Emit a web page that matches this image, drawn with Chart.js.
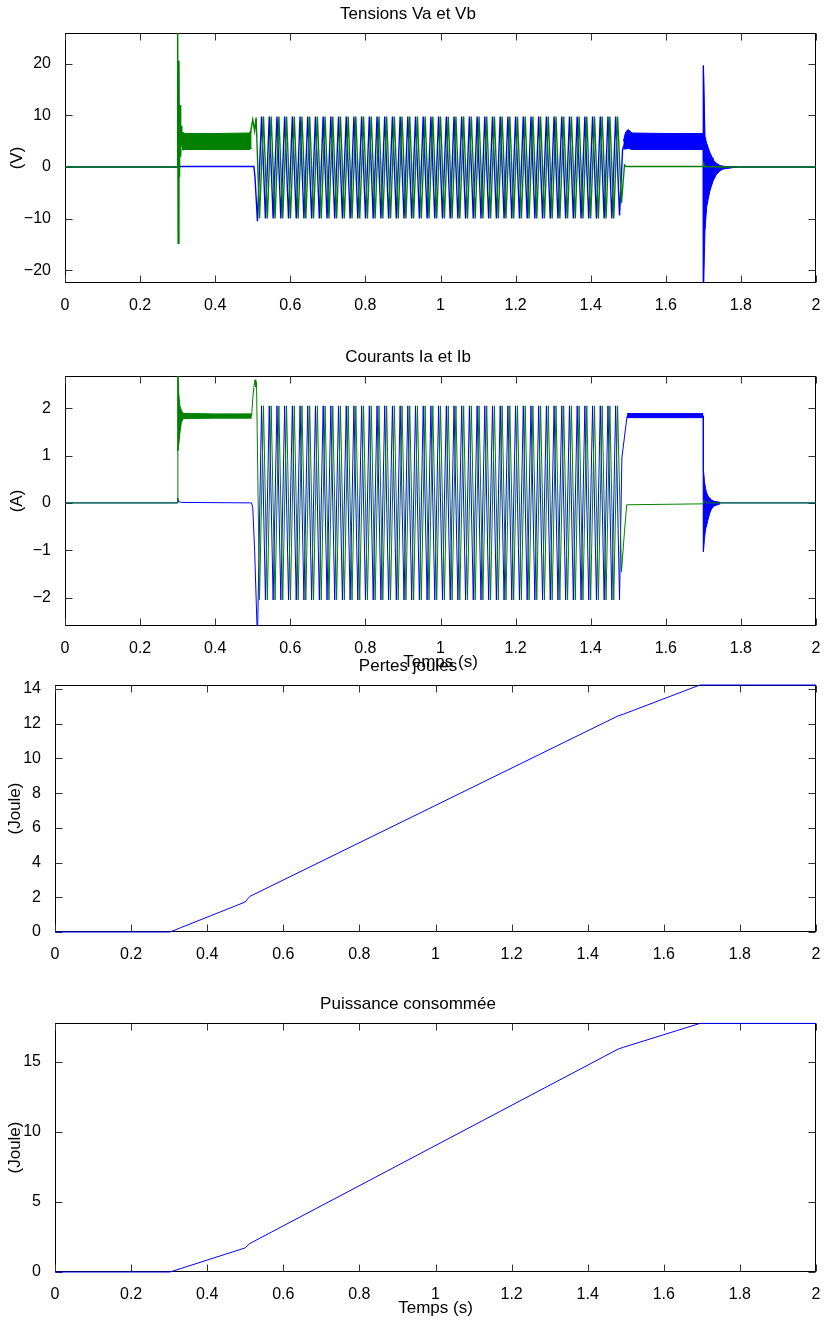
<!DOCTYPE html>
<html>
<head>
<meta charset="utf-8">
<script src="https://cdn.jsdelivr.net/npm/chart.js@4.4.0/dist/chart.umd.min.js"></script>
<style>
  html, body { margin: 0; padding: 0; background: #fff; overflow: hidden; }
  body { width: 830px; height: 1321px; position: relative; }
  canvas { position: absolute; left: 0; }
</style>
</head>
<body>
<canvas id="c1" width="830" height="330" style="top:-7px"></canvas>
<canvas id="c2" width="830" height="340" style="top:336px"></canvas>
<canvas id="c3" width="830" height="327" style="top:645px"></canvas>
<canvas id="c4" width="830" height="339" style="top:983px"></canvas>
<script>
// Instants des extrema pendant la phase sinusoidale
const tOscA = [
  0.5235, 0.5338, 0.5440, 0.5543, 0.5645, 0.5748, 0.5850, 0.5953, 0.6055, 0.6158,
  0.6260, 0.6363, 0.6465, 0.6568, 0.6670, 0.6773, 0.6875, 0.6978, 0.7080, 0.7183,
  0.7285, 0.7388, 0.7490, 0.7593, 0.7695, 0.7798, 0.7900, 0.8003, 0.8105, 0.8208,
  0.8310, 0.8413, 0.8515, 0.8618, 0.8720, 0.8823, 0.8925, 0.9028, 0.9130, 0.9233,
  0.9335, 0.9438, 0.9540, 0.9643, 0.9745, 0.9848, 0.9950, 1.0053, 1.0155, 1.0258,
  1.0360, 1.0463, 1.0565, 1.0668, 1.0770, 1.0873, 1.0975, 1.1078, 1.1180, 1.1283,
  1.1385, 1.1488, 1.1590, 1.1693, 1.1795, 1.1898, 1.2000, 1.2103, 1.2205, 1.2308,
  1.2410, 1.2513, 1.2615, 1.2718, 1.2820, 1.2923, 1.3025, 1.3128, 1.3230, 1.3333,
  1.3435, 1.3538, 1.3640, 1.3743, 1.3845, 1.3948, 1.4050, 1.4153, 1.4255, 1.4358,
  1.4460, 1.4563, 1.4665, 1.4768
];
const tOscB = [
  0.5286, 0.5389, 0.5491, 0.5594, 0.5696, 0.5799, 0.5901, 0.6004, 0.6106, 0.6209,
  0.6311, 0.6414, 0.6516, 0.6619, 0.6721, 0.6824, 0.6926, 0.7029, 0.7131, 0.7234,
  0.7336, 0.7439, 0.7541, 0.7644, 0.7746, 0.7849, 0.7951, 0.8054, 0.8156, 0.8259,
  0.8361, 0.8464, 0.8566, 0.8669, 0.8771, 0.8874, 0.8976, 0.9079, 0.9181, 0.9284,
  0.9386, 0.9489, 0.9591, 0.9694, 0.9796, 0.9899, 1.0001, 1.0104, 1.0206, 1.0309,
  1.0411, 1.0514, 1.0616, 1.0719, 1.0821, 1.0924, 1.1026, 1.1129, 1.1231, 1.1334,
  1.1436, 1.1539, 1.1641, 1.1744, 1.1846, 1.1949, 1.2051, 1.2154, 1.2256, 1.2359,
  1.2461, 1.2564, 1.2666, 1.2769, 1.2871, 1.2974, 1.3076, 1.3179, 1.3281, 1.3384,
  1.3486, 1.3589, 1.3691, 1.3794, 1.3896, 1.3999, 1.4101, 1.4204, 1.4306, 1.4409,
  1.4511, 1.4614, 1.4716, 1.4819
];

// Tension Va (bleu)
const tVaDebut = [0, 0.2998, 0.3010, 0.5030, 0.5060, 0.5125];
const vaDebut  = [0, 0, 0.1, 0.1, -2, -10.5];
const vaOsc = [
  9.8, -10, 9.8, -10, 9.8, -10, 9.8, -10, 9.8, -10,
  9.8, -10, 9.8, -10, 9.8, -10, 9.8, -10, 9.8, -10,
  9.8, -10, 9.8, -10, 9.8, -10, 9.8, -10, 9.8, -10,
  9.8, -10, 9.8, -10, 9.8, -10, 9.8, -10, 9.8, -10,
  9.8, -10, 9.8, -10, 9.8, -10, 9.8, -10, 9.8, -10,
  9.8, -10, 9.8, -10, 9.8, -10, 9.8, -10, 9.8, -10,
  9.8, -10, 9.8, -10, 9.8, -10, 9.8, -10, 9.8, -10,
  9.8, -10, 9.8, -10, 9.8, -10, 9.8, -10, 9.8, -10,
  9.8, -10, 9.8, -10, 9.8, -10, 9.8, -10, 9.8, -10,
  9.8, -10, 9.8, -9.4
];
const tVaFin = [1.4850, 1.4935, 1.6995, 1.6997, 1.7002, 1.7044, 1.7090, 1.7177, 1.7266, 1.7355, 1.7530, 2.0];
const vaFin  = [3.5, 5, 5, -25, 19.7, -12, 4.5, -4.5, 1.3, -1.3, 0, 0];
const tBandeVa = [1.4870, 1.4930, 1.5000, 1.5100, 1.6000, 1.6995];
const vaHaut   = [5.0, 6.8, 7.3, 6.6, 6.5, 6.5];
const vaBas    = [3.5, 3.5, 3.6, 3.4, 3.4, 3.4];
const tAmortVa = [1.7002, 1.7044, 1.7090, 1.7177, 1.7266, 1.7355, 1.7440, 1.7530, 1.7710, 1.7900];
const vaAmHaut = [19.7, 6, 4.5, 2.8, 1.3, 0.7, 0.3, 0.15, 0.05, 0];
const vaAmBas  = [-25, -12, -7.7, -4.5, -2.6, -1.3, -0.7, -0.4, -0.2, 0];

// Tension Vb (vert)
const tVbDebut = [0, 0.2998, 0.3000, 0.3012, 0.3035, 0.3050, 0.3065, 0.3080, 0.3095, 0.3110, 0.3200, 0.4900, 0.5000, 0.5050, 0.5090, 0.5180];
const vbDebut  = [0, 0, 30, -14.8, 20.6, -2, 12, 2, 8, 4.2, 5, 5, 9.2, 7, 9.6, -10];
const vbOsc = [
  9.8, -10, 9.8, -10, 9.8, -10, 9.8, -10, 9.8, -10,
  9.8, -10, 9.8, -10, 9.8, -10, 9.8, -10, 9.8, -10,
  9.8, -10, 9.8, -10, 9.8, -10, 9.8, -10, 9.8, -10,
  9.8, -10, 9.8, -10, 9.8, -10, 9.8, -10, 9.8, -10,
  9.8, -10, 9.8, -10, 9.8, -10, 9.8, -10, 9.8, -10,
  9.8, -10, 9.8, -10, 9.8, -10, 9.8, -10, 9.8, -10,
  9.8, -10, 9.8, -10, 9.8, -10, 9.8, -10, 9.8, -10,
  9.8, -10, 9.8, -10, 9.8, -10, 9.8, -10, 9.8, -10,
  9.8, -10, 9.8, -10, 9.8, -10, 9.8, -10, 9.8, -10,
  9.8, -10, 9.8, -7
];
const tVbFin = [1.4900, 1.4950, 1.7000, 1.7010, 1.7050, 1.7500, 2.0];
const vbFin  = [0.4, 0.1, 0.1, 0.7, 0.1, 0, 0];
const tBandeVb = [0.3110, 0.3200, 0.4000, 0.4900, 0.4970];
const vbHaut   = [6.8, 6.5, 6.5, 6.6, 7.0];
const vbBas    = [3.3, 3.4, 3.4, 3.4, 3.6];

// Courant Ia (bleu)
const tIaDebut = [0, 0.2998, 0.3005, 0.3020, 0.3100, 0.4970, 0.5000, 0.5050, 0.5125];
const iaDebut  = [0, 0, 0.1, 0.03, 0.01, 0, -0.1, -1, -2.9];
const iaOsc = [
  2.05, -2.05, 2.05, -2.05, 2.05, -2.05, 2.05, -2.05, 2.05, -2.05,
  2.05, -2.05, 2.05, -2.05, 2.05, -2.05, 2.05, -2.05, 2.05, -2.05,
  2.05, -2.05, 2.05, -2.05, 2.05, -2.05, 2.05, -2.05, 2.05, -2.05,
  2.05, -2.05, 2.05, -2.05, 2.05, -2.05, 2.05, -2.05, 2.05, -2.05,
  2.05, -2.05, 2.05, -2.05, 2.05, -2.05, 2.05, -2.05, 2.05, -2.05,
  2.05, -2.05, 2.05, -2.05, 2.05, -2.05, 2.05, -2.05, 2.05, -2.05,
  2.05, -2.05, 2.05, -2.05, 2.05, -2.05, 2.05, -2.05, 2.05, -2.05,
  2.05, -2.05, 2.05, -2.05, 2.05, -2.05, 2.05, -2.05, 2.05, -2.05,
  2.05, -2.05, 2.05, -2.05, 2.05, -2.05, 2.05, -2.05, 2.05, -2.05,
  2.05, -2.05, 2.05, -2.05
];
const tIaFin = [1.4830, 1.4970, 1.6995, 1.6998, 1.7003, 1.7060, 1.7090, 1.7130, 1.7170, 1.7220, 1.7300, 1.7450, 2.0];
const iaFin  = [0.95, 1.84, 1.84, -1.03, 0.69, -0.55, 0.2, -0.33, 0.1, -0.12, 0.03, 0, 0];
const tBandeIa = [1.4970, 1.6995];
const iaHaut   = [1.886, 1.886];
const iaBas    = [1.80, 1.80];
const tAmortIa = [1.7003, 1.7030, 1.7060, 1.7090, 1.7130, 1.7170, 1.7220, 1.7300, 1.7450];
const iaAmHaut = [0.69, 0.45, 0.3, 0.2, 0.14, 0.1, 0.06, 0.03, 0.01];
const iaAmBas  = [-1.03, -0.75, -0.55, -0.47, -0.33, -0.22, -0.12, -0.06, -0.02];

// Courant Ib (vert)
const tIbDebut = [0, 0.2998, 0.3003, 0.3008, 0.3100, 0.4970, 0.5000, 0.5030, 0.5060, 0.5080, 0.5100, 0.5180];
const ibDebut  = [0, 0, 2.9, 1.1, 1.83, 1.83, 2.2, 2.45, 2.6, 2.45, 2.55, -2.05];
const ibOsc = [
  2.05, -2.05, 2.05, -2.05, 2.05, -2.05, 2.05, -2.05, 2.05, -2.05,
  2.05, -2.05, 2.05, -2.05, 2.05, -2.05, 2.05, -2.05, 2.05, -2.05,
  2.05, -2.05, 2.05, -2.05, 2.05, -2.05, 2.05, -2.05, 2.05, -2.05,
  2.05, -2.05, 2.05, -2.05, 2.05, -2.05, 2.05, -2.05, 2.05, -2.05,
  2.05, -2.05, 2.05, -2.05, 2.05, -2.05, 2.05, -2.05, 2.05, -2.05,
  2.05, -2.05, 2.05, -2.05, 2.05, -2.05, 2.05, -2.05, 2.05, -2.05,
  2.05, -2.05, 2.05, -2.05, 2.05, -2.05, 2.05, -2.05, 2.05, -2.05,
  2.05, -2.05, 2.05, -2.05, 2.05, -2.05, 2.05, -2.05, 2.05, -2.05,
  2.05, -2.05, 2.05, -2.05, 2.05, -2.05, 2.05, -2.05, 2.05, -2.05,
  2.05, -2.05, 2.05, -1.46
];
const tIbFin = [1.4900, 1.4960, 1.7000, 1.7010, 1.7100, 2.0];
const ibFin  = [-0.6, -0.04, -0.02, 0.05, 0, 0];
const tBandeIb = [0.3005, 0.3030, 0.3060, 0.3100, 0.3150, 0.4000, 0.4970];
const ibHaut   = [2.75, 2.3, 2.05, 1.95, 1.89, 1.88, 1.88];
const ibBas    = [1.1, 1.25, 1.5, 1.7, 1.78, 1.79, 1.79];

// Energies cumulees
const tEnergie  = [0, 0.302, 0.499, 0.512, 1.480, 1.494, 1.695, 2.0];
const pertes    = [0, 0, 1.72, 2.05, 12.45, 12.55, 14.23, 14.23];
const puissance = [0, 0, 1.71, 2.03, 15.89, 16.02, 17.72, 17.72];

const bleu = '#0000ff';
const vert = '#008000';
const police = "'Liberation Sans', Arial, Helvetica, sans-serif";

function pts(t, v) {
    return t.map((x, i) => ({ x: x, y: v[i] }));
}

function ligne(data, couleur, epaisseur) {
    return { data: data, borderColor: couleur, backgroundColor: couleur, borderWidth: epaisseur || 1, pointRadius: 0, tension: 0, fill: false };
}

// bande pleine entre deux courbes (ondulation haute frequence)
function bande(t, haut, bas, couleur) {
    return [
        { data: pts(t, haut), borderColor: couleur, backgroundColor: couleur, borderWidth: 1, pointRadius: 0, tension: 0, fill: '+1' },
        { data: pts(t, bas), borderColor: couleur, backgroundColor: couleur, borderWidth: 1, pointRadius: 0, tension: 0, fill: false }
    ];
}

// Cadre et graduations internes facon MATLAB
const cadreMatlab = {
    id: 'cadreMatlab',
    beforeDatasetsDraw(chart) {
        const { ctx, chartArea: a, scales: { x, y } } = chart;
        const l = Math.round(a.left) + 0.5, r = Math.round(a.right) - 0.5;
        const t = Math.round(a.top) + 0.5, b = Math.round(a.bottom) - 0.5;
        ctx.save();
        ctx.strokeStyle = '#000';
        ctx.lineWidth = 1;
        ctx.strokeRect(l, t, r - l, b - t);
        ctx.beginPath();
        x.ticks.forEach(tk => {
            const px = Math.round(x.getPixelForValue(tk.value)) + 0.5;
            ctx.moveTo(px, b); ctx.lineTo(px, b - 7);
            ctx.moveTo(px, t); ctx.lineTo(px, t + 7);
        });
        y.ticks.forEach(tk => {
            const py = Math.round(y.getPixelForValue(tk.value)) + 0.5;
            ctx.moveTo(l, py); ctx.lineTo(l + 7, py);
            ctx.moveTo(r, py); ctx.lineTo(r - 7, py);
        });
        ctx.strokeStyle = '#333';
        ctx.stroke();
        ctx.restore();
    }
};

function graphe(id, o) {
    return new Chart(document.getElementById(id), {
        type: 'line',
        data: { datasets: o.datasets },
        options: {
            responsive: false,
            animation: false,
            events: [],
            layout: { padding: { left: 0, right: 14, top: 0, bottom: 0 } },
            plugins: {
                legend: { display: false },
                tooltip: { enabled: false },
                title: {
                    display: true,
                    text: o.titre,
                    color: '#000',
                    font: { family: police, size: 17, weight: 'normal' },
                    padding: { top: 10.8, bottom: 8.8 }
                }
            },
            scales: {
                x: {
                    type: 'linear',
                    min: 0,
                    max: 2,
                    afterFit: s => { s.height = o.hautX; },
                    grid: { display: false },
                    border: { display: false },
                    ticks: {
                        stepSize: 0.2,
                        padding: 5,
                        color: '#000',
                        font: { family: police, size: 16 },
                        maxRotation: 0,
                        autoSkip: false,
                        includeBounds: false,
                        callback: v => String(+v.toFixed(2))
                    },
                    title: {
                        display: !!o.titreX,
                        text: o.titreX || '',
                        color: '#000',
                        font: { family: police, size: 17 },
                        padding: { top: 0, bottom: 3.8 }
                    }
                },
                y: {
                    type: 'linear',
                    min: o.ymin,
                    max: o.ymax,
                    afterFit: s => { s.width = o.largY; },
                    grid: { display: false },
                    border: { display: false },
                    ticks: {
                        stepSize: o.pas,
                        padding: 6,
                        color: '#000',
                        font: { family: police, size: 16 },
                        includeBounds: false,
                        callback: v => String(v).replace('-', '\u2212')
                    },
                    title: {
                        display: true,
                        text: o.titreY,
                        color: '#000',
                        font: { family: police, size: 17 },
                        padding: { top: o.padY, bottom: 0 }
                    }
                }
            }
        },
        plugins: [cadreMatlab]
    });
}

// Tensions Va et Vb
graphe('c1', {
    titre: 'Tensions Va et Vb', titreY: '(V)', padY: 6.8,
    ymin: -22.5, ymax: 26, pas: 10, largY: 65, hautX: 40,
    datasets: [
        ligne(pts(tVbDebut, vbDebut).concat(pts(tOscB, vbOsc), pts(tVbFin, vbFin)), vert, 1.4),
        ...bande(tBandeVb, vbHaut, vbBas, vert),
        ligne(pts(tVaDebut, vaDebut).concat(pts(tOscA, vaOsc), pts(tVaFin, vaFin)), bleu, 1.4),
        ...bande(tBandeVa, vaHaut, vaBas, bleu),
        ...bande(tAmortVa, vaAmHaut, vaAmBas, bleu)
    ]
});

// Courants Ia et Ib
graphe('c2', {
    titre: 'Courants Ia et Ib', titreY: '(A)', titreX: 'Temps (s)', padY: 6.8,
    ymin: -2.6, ymax: 2.68, pas: 1, largY: 65, hautX: 50,
    datasets: [
        ligne(pts(tIbDebut, ibDebut).concat(pts(tOscB, ibOsc), pts(tIbFin, ibFin)), vert),
        ...bande(tBandeIb, ibHaut, ibBas, vert),
        ligne(pts(tIaDebut, iaDebut).concat(pts(tOscA, iaOsc), pts(tIaFin, iaFin)), bleu),
        ...bande(tBandeIa, iaHaut, iaBas, bleu),
        ...bande(tAmortIa, iaAmHaut, iaAmBas, bleu)
    ]
});

// Pertes joules
graphe('c3', {
    titre: 'Pertes joules', titreY: '(Joule)', padY: 5.6,
    ymin: 0, ymax: 14.23, pas: 2, largY: 55, hautX: 40,
    datasets: [Object.assign(ligne(pts(tEnergie, pertes), bleu), { clip: 2 })]
});

// Puissance consommee
graphe('c4', {
    titre: 'Puissance consommée', titreY: '(Joule)', titreX: 'Temps (s)', padY: 5.6,
    ymin: 0, ymax: 17.75, pas: 5, largY: 55, hautX: 50,
    datasets: [Object.assign(ligne(pts(tEnergie, puissance), bleu), { clip: 2 })]
});
</script>
</body>
</html>
